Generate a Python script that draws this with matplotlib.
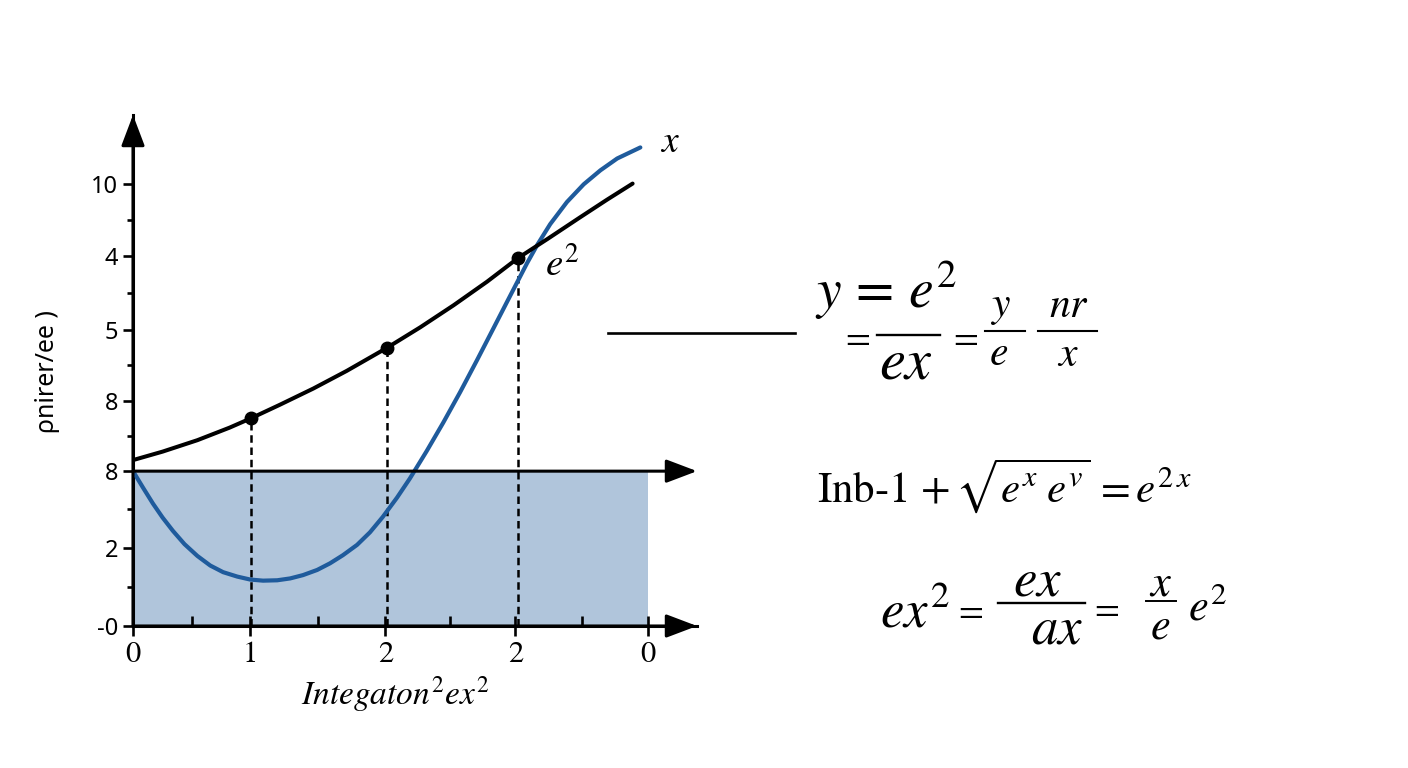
import matplotlib
matplotlib.use('Agg')
import matplotlib.pyplot as plt
from matplotlib.lines import Line2D

plt.rcParams['mathtext.fontset'] = 'stix'

# --- data ---
black_x = [0, 0.23, 0.50, 0.75, 0.92, 1.14, 1.40, 1.66, 1.97, 2.23, 2.49, 2.75, 2.99,
           3.22, 3.47, 3.68, 3.88]
black_y = [2.25, 2.365, 2.52, 2.69, 2.82, 3.00, 3.22, 3.46, 3.77, 4.05, 4.35, 4.67, 4.99,
           5.25, 5.54, 5.78, 6.00]

blue_x = [0, 0.08, 0.155, 0.23, 0.31, 0.40, 0.50, 0.60, 0.70, 0.81, 0.91, 1.01, 1.12,
          1.22, 1.32, 1.43, 1.53, 1.63, 1.74, 1.84, 1.94, 2.05, 2.15, 2.28, 2.41, 2.54,
          2.67, 2.80, 2.90, 2.98, 3.06, 3.14, 3.24, 3.37, 3.50, 3.63, 3.76, 3.94]
blue_y = [2.10, 1.87, 1.66, 1.47, 1.29, 1.11, 0.95, 0.82, 0.73, 0.67, 0.63, 0.615, 0.62,
          0.645, 0.69, 0.76, 0.85, 0.96, 1.10, 1.27, 1.48, 1.74, 2.00, 2.37, 2.76, 3.17,
          3.60, 4.04, 4.38, 4.65, 4.92, 5.17, 5.45, 5.75, 5.99, 6.18, 6.34, 6.49]

pts_x = [0.92, 1.97, 2.99]
pts_y = [2.82, 3.77, 4.99]

shade_x = [0, 4.0]
shade_top = 2.1

xtick_pos = [0, 0.91, 1.96, 2.97, 4.0]
xtick_lbl = ['0', '1', '2', '2', '0']
ytick_pos = [0, 1.06, 2.1, 3.05, 4.02, 5.02, 6.0]
ytick_lbl = ['-0', '2', '8', '8', '5', '4', '10']

XMAX, YMAX = 4.38, 6.93
BLUE = '#1f5b9c'
SHADE = '#b0c5db'


def fx(px):
    return px / 1408


def fy(py):
    return 1 - py / 768


# --- figure / axes ---
fig = plt.figure(figsize=(14.08, 7.68), dpi=100)
ax = fig.add_axes([fx(133), fy(626), fx(697) - fx(133), fy(115) - fy(626)])
ax.set_xlim(0, XMAX)
ax.set_ylim(0, YMAX)
for s in ['top', 'right']:
    ax.spines[s].set_visible(False)
for s in ['left', 'bottom']:
    ax.spines[s].set_linewidth(2.2)

# shaded area and curves
ax.fill_between(shade_x, 0, shade_top, color=SHADE, lw=0, zorder=1)
ax.plot(blue_x, blue_y, color=BLUE, lw=3.0, solid_capstyle='round',
        solid_joinstyle='round', zorder=3)
ax.plot(black_x, black_y, color='black', lw=2.9, solid_capstyle='round',
        solid_joinstyle='round', zorder=4)
ax.vlines(pts_x, 0, pts_y, colors='black', lw=1.8, linestyles=(0, (3.0, 1.9)), zorder=2)
ax.plot(pts_x, pts_y, 'o', color='black', ms=9, zorder=5)

# axis arrows
arr = dict(arrowstyle='-|>,head_length=0.95,head_width=0.36', mutation_scale=20,
           color='black', lw=2.2, shrinkA=0, shrinkB=0)
ax.annotate('', xy=(0, YMAX), xytext=(0, 0), arrowprops=arr, annotation_clip=False, zorder=6)
ax.annotate('', xy=(XMAX, 0), xytext=(0, 0), arrowprops=arr, annotation_clip=False, zorder=6)
ax.annotate('', xy=(XMAX, shade_top), xytext=(0, shade_top), arrowprops=arr,
            annotation_clip=False, zorder=6)

# ticks
ax.set_yticks(ytick_pos)
ax.set_yticklabels(ytick_lbl, family='Noto Sans', fontsize=17)
ymid = [(a + b) / 2 for a, b in zip(ytick_pos[:-1], ytick_pos[1:])]
ax.set_yticks(ymid, minor=True)
ax.tick_params(axis='y', which='major', direction='out', length=7.5, width=1.9, pad=3)
ax.tick_params(axis='y', which='minor', direction='out', length=4.5, width=1.9)

ax.set_xticks(xtick_pos)
ax.set_xticklabels(xtick_lbl, family='STIXGeneral', fontsize=22)
xmid = [(a + b) / 2 for a, b in zip(xtick_pos[:-1], xtick_pos[1:])]
ax.set_xticks(xmid, minor=True)
ax.tick_params(axis='x', which='major', direction='inout', length=14, width=1.9, pad=4)
ax.tick_params(axis='x', which='minor', direction='in', length=7, width=1.9)
xq = []
for a, b in zip(xtick_pos[:-1], xtick_pos[1:]):
    m = (a + b) / 2
    xq += [(a + m) / 2, (m + b) / 2]
sec = ax.secondary_xaxis(0)
sec.spines['bottom'].set_visible(False)
sec.set_xticks(xq)
sec.set_xticklabels([])
sec.tick_params(axis='x', direction='in', length=4, width=1.9)

ax.set_xlabel(r'$Integaton^2ex^2$', fontsize=24)
ax.xaxis.set_label_coords(0.465, -0.095)
ax.set_ylabel('ρnirer/ee )', family='Noto Sans', fontsize=18)
ax.yaxis.set_label_coords(-0.13, 0.497)

# curve labels
ax.text(4.17, 6.56, r'$x$', fontsize=27, ha='center', va='center')
ax.text(3.33, 4.90, r'$e^2$', fontsize=28, ha='center', va='center')

# --- right-hand formulas ---
fig.add_artist(Line2D([fx(608), fx(795)], [fy(333), fy(333)], color='black', lw=1.9))

fig.text(fx(815), fy(290), r'$y\,=\,e^2$', fontsize=40, ha='left', va='center')
fig.text(fx(855), fy(337), r'$=$', fontsize=26, ha='center', va='center')
fig.add_artist(Line2D([fx(877), fx(940)], [fy(335), fy(335)], color='black', lw=1.7))
fig.text(fx(906), fy(362), r'$ex$', fontsize=42, ha='center', va='center')
fig.text(fx(963), fy(337), r'$=$', fontsize=26, ha='center', va='center')
fig.add_artist(Line2D([fx(985), fx(1025)], [fy(331), fy(331)], color='black', lw=1.5))
fig.text(fx(1000), fy(306), r'$y$', fontsize=30, ha='center', va='center')
fig.text(fx(999), fy(353), r'$e$', fontsize=30, ha='center', va='center')
fig.add_artist(Line2D([fx(1038), fx(1097)], [fy(331), fy(331)], color='black', lw=1.5))
fig.text(fx(1069), fy(305), r'$nr$', fontsize=30, ha='center', va='center')
fig.text(fx(1068), fy(354), r'$x$', fontsize=30, ha='center', va='center')

fig.text(fx(817), fy(486), 'Inb-1 ' + r'$+\,\sqrt{e^x\;e^v}\,=e^{2\,x}$',
         family='STIXGeneral', fontsize=31, ha='left', va='center')

fig.text(fx(880), fy(612), r'$ex^2$', fontsize=38, ha='left', va='center')
fig.text(fx(968), fy(610), r'$=$', fontsize=26, ha='center', va='center')
fig.add_artist(Line2D([fx(998), fx(1085)], [fy(603), fy(603)], color='black', lw=1.7))
fig.text(fx(1037), fy(581), r'$ex$', fontsize=38, ha='center', va='center')
fig.text(fx(1057), fy(628), r'$ax$', fontsize=38, ha='center', va='center')
fig.text(fx(1104), fy(608), r'$=$', fontsize=26, ha='center', va='center')
fig.add_artist(Line2D([fx(1146), fx(1176)], [fy(601), fy(601)], color='black', lw=1.4))
fig.text(fx(1161), fy(583), r'$x$', fontsize=32, ha='center', va='center')
fig.text(fx(1160), fy(626), r'$e$', fontsize=32, ha='center', va='center')
fig.text(fx(1188), fy(607), r'$e^2$', fontsize=32, ha='left', va='center')

fig.savefig('out.png', dpi=100)
